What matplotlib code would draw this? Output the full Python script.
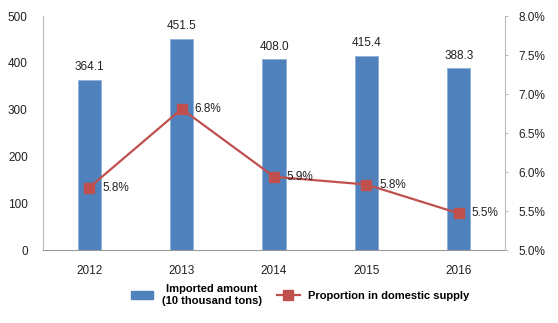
import matplotlib
matplotlib.use("Agg")
import matplotlib.pyplot as plt
from matplotlib.lines import Line2D
from matplotlib.patches import Patch

years = ["2012", "2013", "2014", "2015", "2016"]
imported = [364.1, 451.5, 408.0, 415.4, 388.3]
proportion = [5.80, 6.81, 5.94, 5.84, 5.47]
left_ticks = [0, 100, 200, 300, 400, 500]
right_ticks = [5.0, 5.5, 6.0, 6.5, 7.0, 7.5, 8.0]

plt.rcParams['font.family'] = ['Liberation Sans', 'DejaVu Sans']

fig = plt.figure(figsize=(5.58, 3.23), dpi=100)
ax = fig.add_axes([0.0771, 0.226, 0.828, 0.724])
x = list(range(len(years)))
ax.bar(x, imported, width=0.25, color='#4F81BD', edgecolor='#8DB0DA', linewidth=0.6, zorder=2)
for xi, v in zip(x, imported):
    ax.text(xi, v + 14, f"{v:.1f}", ha='center', va='bottom', fontsize=8.5, color='#222222')
ax.set_ylim(0, 500)
ax.set_xlim(-0.5, 4.5)
ax.set_yticks(left_ticks)
ax.set_xticks(x)
ax.set_xticklabels(years)
ax.tick_params(axis='y', length=0, labelsize=8.5, pad=11, colors='#222222')
ax.tick_params(axis='x', length=0, labelsize=8.5, pad=11, colors='#222222')
for s in ['top', 'right']:
    ax.spines[s].set_visible(False)
ax.spines['left'].set_color('#BBBBBB')
ax.spines['bottom'].set_color('#999999')

ax2 = ax.twinx()
ax2.plot(x, proportion, color='#C0504D', linewidth=1.6, marker='s', markersize=7.5,
         markerfacecolor='#C0504D', markeredgecolor='#C0504D', zorder=3)
for xi, v in zip(x, proportion):
    ax2.text(xi + 0.14, v, f"{v:.1f}%", ha='left', va='center', fontsize=8.5, color='#222222')
ax2.set_ylim(5.0, 8.0)
ax2.set_yticks(right_ticks)
ax2.set_yticklabels([f"{t:.1f}%" for t in right_ticks])
ax2.tick_params(axis='y', length=2.5, width=0.8, labelsize=8.5, color='#BBBBBB',
                labelcolor='#222222', pad=7)
for s in ['top', 'left', 'bottom']:
    ax2.spines[s].set_visible(False)
ax2.spines['right'].set_color('#BBBBBB')

handles = [Patch(facecolor='#4F81BD', edgecolor='#4F81BD'),
           Line2D([0], [0], color='#C0504D', linewidth=1.6, marker='s', markersize=7.5)]
labels = ["Imported amount\n(10 thousand tons)", "Proportion in domestic supply"]
leg = fig.legend(handles, labels, loc='center', bbox_to_anchor=(0.538, 0.087), ncol=2,
                 frameon=False, fontsize=8, handlelength=2.0, columnspacing=1.4,
                 handletextpad=0.8, handleheight=0.6)
for t in leg.get_texts():
    t.set_fontweight('bold')
    t.set_multialignment('center')

fig.savefig("out.png", dpi=100)
